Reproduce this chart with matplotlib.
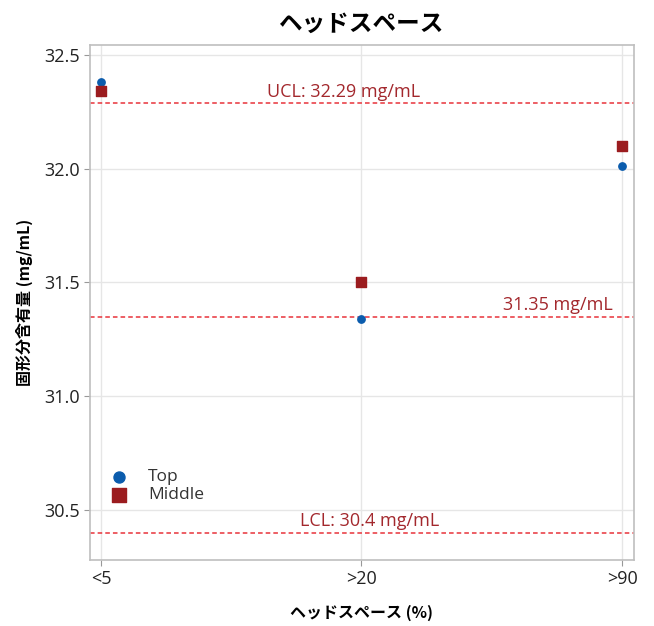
import matplotlib
matplotlib.use("Agg")
import matplotlib.pyplot as plt

plt.rcParams['font.family'] = ['Open Sans', 'Noto Sans CJK JP', 'DejaVu Sans']

categories = ["<5", ">20", ">90"]
top_values = [32.38, 31.34, 32.01]
middle_values = [32.34, 31.50, 32.10]
ucl = 32.29
center = 31.35
lcl = 30.4
yticks = [30.5, 31.0, 31.5, 32.0, 32.5]

fig = plt.figure(figsize=(6.54, 6.26), dpi=100)
ax = fig.add_axes([90/654, 1-560/626, (634-90)/654, (560-45)/626])

x = list(range(len(categories)))
ax.scatter(x, top_values, marker='o', s=28, color='#0b5cad', zorder=3, label='Top')
ax.scatter(x, middle_values, marker='s', s=50, color='#9b1c1f', zorder=3, label='Middle')

line_col = '#e8333a'
txt_col = '#a3282d'
for v in (ucl, center, lcl):
    ax.axhline(v, color=line_col, linestyle=(0, (3, 2)), linewidth=1.1, zorder=2)

ax.text(0.93, ucl + 0.01, f"UCL: {ucl} mg/mL", color=txt_col, fontsize=13, ha='center', va='bottom')
ax.text(1.965, center + 0.01, f"{center} mg/mL", color=txt_col, fontsize=13, ha='right', va='bottom')
ax.text(1.03, lcl + 0.01, f"LCL: {lcl} mg/mL", color=txt_col, fontsize=13, ha='center', va='bottom')

ax.set_xlim(-0.042, 2.046)
ax.set_ylim(30.28, 32.544)
ax.set_xticks(x)
ax.set_xticklabels(categories)
ax.set_yticks(yticks)
ax.set_yticklabels([f"{t:.1f}" for t in yticks])
ax.grid(True, color='#e6e6e6', linewidth=1)
ax.set_axisbelow(True)
for s in ax.spines.values():
    s.set_color('#bfbfbf')
    s.set_linewidth(1.2)
ax.tick_params(axis='both', colors='#999999', labelsize=13, length=4)
for lab in ax.get_xticklabels() + ax.get_yticklabels():
    lab.set_color('#222222')

ax.set_title("ヘッドスペース", fontsize=17, fontweight='bold', pad=10,
             family=['Noto Sans CJK JP', 'DejaVu Sans'])
ax.set_xlabel("ヘッドスペース (%)", fontsize=11.5, fontweight='bold', labelpad=12,
              family=['Noto Sans CJK JP', 'DejaVu Sans'])
ax.set_ylabel("固形分含有量 (mg/mL)", fontsize=11.5, fontweight='bold', labelpad=8,
              family=['Noto Sans CJK JP', 'DejaVu Sans'])

leg = ax.legend(loc='lower left', bbox_to_anchor=(-0.008, 0.08), frameon=False, fontsize=12.5,
                handletextpad=0.7, labelspacing=0.1, markerscale=1.5)
for t in leg.get_texts():
    t.set_color('#333333')

fig.savefig("out.png", dpi=100)
